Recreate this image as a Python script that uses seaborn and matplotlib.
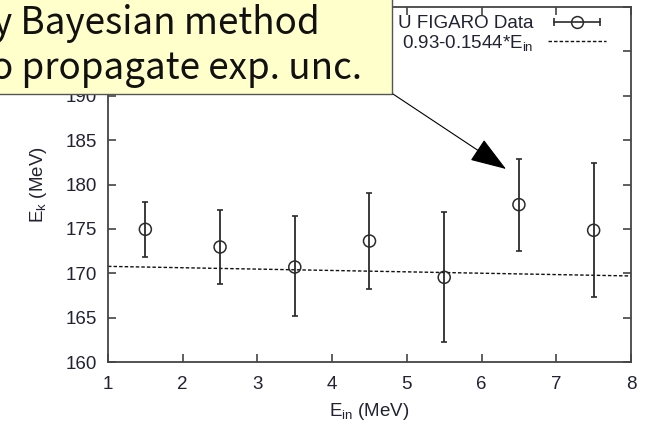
import numpy as np
import pandas as pd
import matplotlib
matplotlib.use("Agg")
import matplotlib.pyplot as plt
import seaborn as sns
from matplotlib.lines import Line2D
from matplotlib.patches import Rectangle, FancyArrowPatch
from matplotlib.legend_handler import HandlerLine2D, HandlerTuple

# ---------------- data ----------------
e_in = [1.5, 2.5, 3.5, 4.5, 5.5, 6.5, 7.5]
e_k = [174.95, 172.96, 170.70, 173.63, 169.54, 177.73, 174.84]
e_k_hi = [178.06, 177.09, 176.41, 179.08, 176.87, 182.91, 182.39]
e_k_lo = [171.87, 168.79, 165.15, 168.26, 162.22, 172.54, 167.29]
fit_x = [1.0, 8.0]
fit_y = [170.776, 169.695]
x_ticks = [1, 2, 3, 4, 5, 6, 7, 8]
y_ticks = [160, 165, 170, 175, 180, 185, 190, 195, 200]
y_tick_labels = ["160", "165", "170", "175", "180", "185", "190", "", ""]  # 195/200 hidden by callout
data_label = "U FIGARO Data"
fit_label = "0.93-0.1544*E$_{in}$"
callout_lines = ["y Bayesian method", "o propagate exp. unc."]

df = pd.DataFrame({"Ein": e_in, "Ek": e_k})
df_fit = pd.DataFrame({"Ein": fit_x, "Ek": fit_y})

sns.set_theme(style="ticks")
plt.rcParams["font.family"] = ["Liberation Sans", "DejaVu Sans"]
plt.rcParams["mathtext.fontset"] = "custom"
plt.rcParams["mathtext.rm"] = "Liberation Sans"
plt.rcParams["mathtext.it"] = "Liberation Sans"

W, H = 645, 423
fig = plt.figure(figsize=(W / 100, H / 100), dpi=100)
fig.patch.set_facecolor("white")
ax = fig.add_axes([108 / W, 1 - 362 / H, (631 - 108) / W, (362 - 7) / H])

txt_col = "#222233"
ink = "#2b2b2b"

# fit line
sns.lineplot(data=df_fit, x="Ein", y="Ek", ax=ax, color="#111111", lw=1.0,
             linestyle=(0, (2.5, 1.5)), legend=False)

# errorbars
lo = np.array(e_k) - np.array(e_k_lo)
hi = np.array(e_k_hi) - np.array(e_k)
ax.errorbar(e_in, e_k, yerr=[lo, hi], fmt="none", ecolor=ink, elinewidth=1.3,
            capsize=2.5, capthick=1.2, zorder=3)
sns.scatterplot(data=df, x="Ein", y="Ek", ax=ax, marker="o", s=75,
                facecolor="none", edgecolor=ink, linewidth=1.1, zorder=4,
                legend=False)

ax.set_xlim(1, 8)
ax.set_ylim(160, 200)
ax.set_xticks(x_ticks)
ax.set_yticks(y_ticks)
ax.set_xticklabels([str(v) for v in x_ticks])
ax.set_yticklabels(y_tick_labels)
ax.tick_params(axis="both", direction="in", length=6, width=1.2, color="#444444",
               labelsize=13.5, labelcolor=txt_col, top=True, right=True)
ax.tick_params(axis="x", pad=10)
ax.tick_params(axis="y", pad=8)
for sp in ax.spines.values():
    sp.set_visible(True)
    sp.set_color("#444444")
    sp.set_linewidth(1.3)

ax.set_xlabel("E$_{in}$ (MeV)", fontsize=13.5, color=txt_col, labelpad=6)
ax.set_ylabel("E$_k$ (MeV)", fontsize=13.5, color=txt_col, labelpad=12)

# legend (gnuplot style: text then sample)
cap_h = Line2D([], [], color=ink, lw=1.2, marker="|", markersize=6, markeredgewidth=1.2)
circ_h = Line2D([], [], color=ink, ls="none", marker="o", markersize=8.5,
                markerfacecolor="none", markeredgewidth=1.1)
fit_h = Line2D([], [], color="#111111", lw=1.0, linestyle=(0, (2.5, 1.5)))
leg = ax.legend([(cap_h, circ_h), fit_h], [data_label, fit_label],
                handler_map={cap_h: HandlerLine2D(numpoints=2),
                             circ_h: HandlerLine2D(numpoints=1),
                             tuple: HandlerTuple(ndivide=1, pad=0)},
                loc="upper right", bbox_to_anchor=(606 / W, 1 - 15 / H),
                bbox_transform=fig.transFigure, frameon=False, markerfirst=False,
                fontsize=13.5, handlelength=3.1, handletextpad=0.75,
                labelspacing=0.05, borderpad=0, borderaxespad=0)
for t in leg.get_texts():
    t.set_color(txt_col)

# callout box
box = Rectangle((-10 / W, 1 - 94 / H), (392 + 10) / W, 120 / H,
                transform=fig.transFigure, facecolor="#FFFFCC",
                edgecolor="#555555", lw=1.0, zorder=20)
fig.add_artist(box)
fig.text(320 / W, 1 - 34 / H, callout_lines[0], ha="right", va="baseline",
         fontsize=26.5, color="#111111", family=["Noto Sans CJK JP", "DejaVu Sans"],
         zorder=21)
fig.text(362 / W, 1 - 79 / H, callout_lines[1], ha="right", va="baseline",
         fontsize=26.5, color="#111111", family=["Noto Sans CJK JP", "DejaVu Sans"],
         zorder=21)

arrow = FancyArrowPatch((393 / 100, (H - 94) / 100), (506 / 100, (H - 169) / 100),
                        transform=fig.dpi_scale_trans,
                        arrowstyle="-|>,head_length=1.15,head_width=0.4",
                        mutation_scale=20, color="black", lw=0.8,
                        shrinkA=0, shrinkB=0, zorder=22)
fig.add_artist(arrow)

fig.savefig("out.png", dpi=100)
